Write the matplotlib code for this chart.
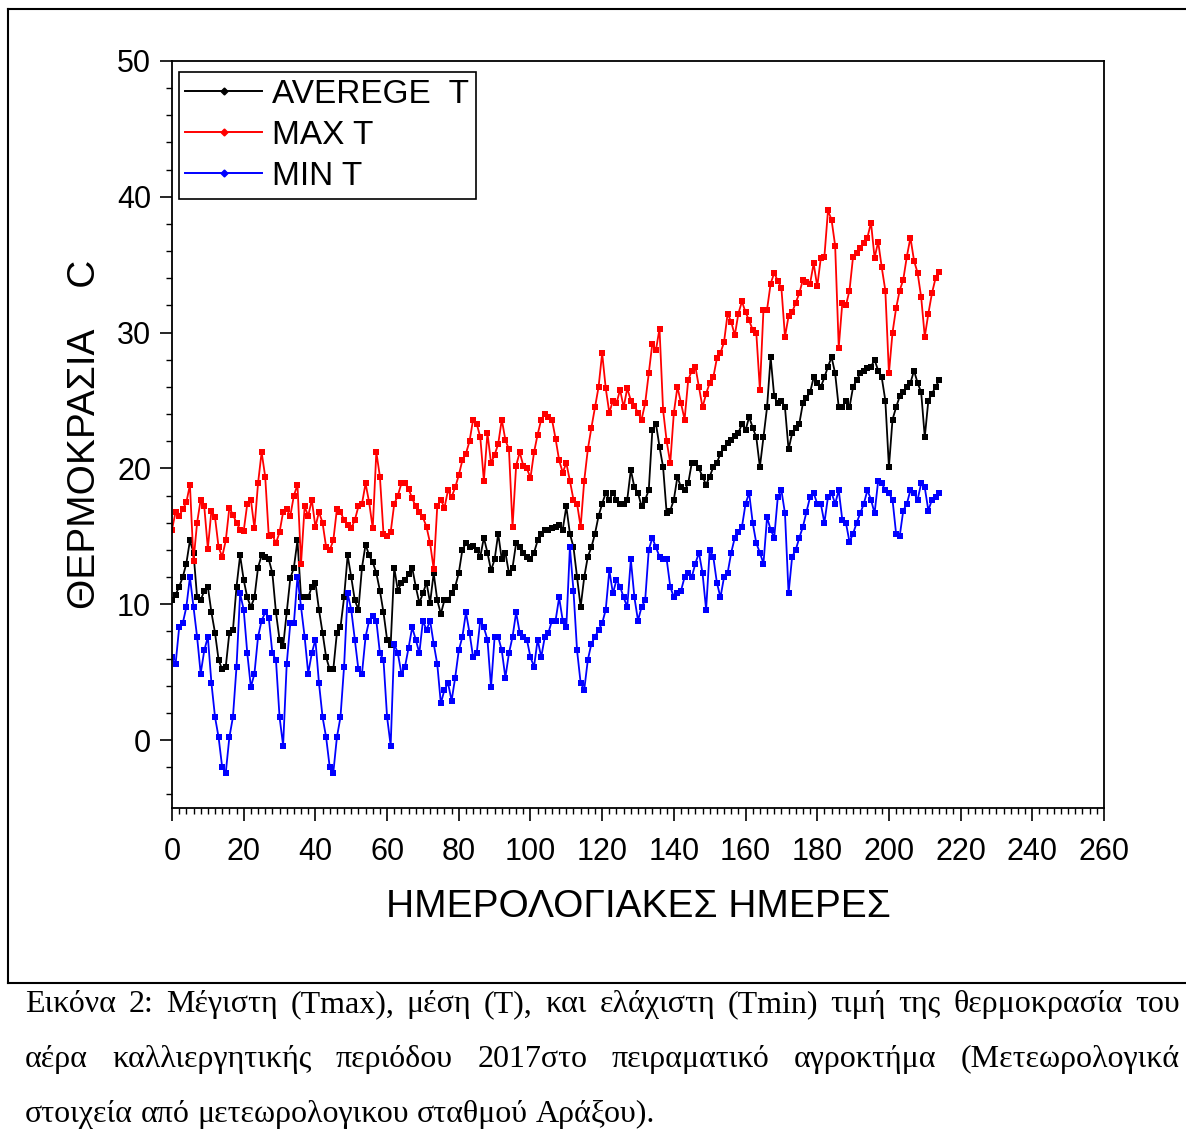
import matplotlib
matplotlib.use("Agg")
import matplotlib.pyplot as plt
from matplotlib.ticker import MultipleLocator
from matplotlib.lines import Line2D

days = list(range(0, 215))

max_t = [15.5, 16.8, 16.5, 17.0, 17.5, 18.8, 13.2, 16.0, 17.7, 17.2,
         14.1, 16.9, 16.4, 14.2, 13.5, 14.7, 17.1, 16.6, 16.0, 15.5,
         15.4, 17.4, 17.7, 15.6, 18.9, 21.2, 19.4, 15.0, 15.1, 14.5,
         15.3, 16.8, 17.0, 16.5, 18.0, 18.8, 13.0, 17.2, 16.5, 17.7,
         15.7, 16.8, 16.0, 14.2, 14.0, 14.7, 17.0, 16.8, 16.2, 15.8,
         15.6, 16.2, 17.2, 17.4, 18.9, 17.5, 15.6, 21.2, 19.4, 15.2,
         15.0, 15.3, 17.4, 18.0, 18.9, 18.9, 18.5, 17.8, 17.2, 16.8,
         16.4, 15.7, 14.5, 12.6, 17.2, 17.7, 17.1, 18.4, 17.9, 18.6,
         19.5, 20.6, 21.1, 22.0, 23.6, 23.3, 22.3, 19.1, 22.6, 20.4,
         21.0, 21.8, 23.6, 22.1, 21.4, 15.7, 20.2, 21.2, 20.2, 20.0,
         19.3, 21.2, 22.5, 23.6, 24.0, 23.8, 23.6, 22.2, 20.6, 19.7,
         20.4, 19.1, 17.7, 17.4, 15.7, 19.1, 21.4, 23.0, 24.5, 26.0,
         28.5, 25.9, 24.1, 25.0, 24.8, 25.8, 24.5, 25.9, 25.0, 24.6,
         24.1, 23.6, 24.8, 27.0, 29.2, 28.7, 30.3, 24.3, 22.0, 20.4,
         24.1, 26.0, 24.8, 23.6, 26.5, 27.2, 27.5, 26.0, 24.5, 25.5,
         26.3, 26.7, 28.1, 28.5, 29.3, 31.4, 30.8, 29.8, 31.4, 32.3,
         31.5, 30.9, 30.2, 30.0, 25.8, 31.7, 31.7, 33.6, 34.4, 33.8,
         33.3, 29.7, 31.2, 31.5, 32.2, 32.9, 33.9, 33.7, 33.6, 35.1,
         33.4, 35.5, 35.6, 39.0, 38.3, 36.4, 28.9, 32.2, 32.0, 33.1,
         35.6, 35.9, 36.2, 36.6, 37.0, 38.1, 35.5, 36.7, 34.8, 33.1,
         27.0, 30.0, 31.8, 33.1, 33.9, 35.6, 37.0, 35.3, 34.4, 32.6,
         29.7, 31.4, 32.9, 34.0, 34.5]

avg_t = [10.3, 10.7, 11.3, 12.0, 13.0, 14.7, 13.8, 10.5, 10.3, 11.0,
         11.3, 9.4, 7.9, 5.9, 5.2, 5.4, 7.9, 8.1, 11.3, 13.6,
         11.8, 10.5, 9.8, 10.5, 12.7, 13.6, 13.5, 13.3, 12.3, 9.4,
         7.4, 6.9, 9.4, 11.9, 12.7, 14.7, 10.5, 10.5, 10.5, 11.3,
         11.6, 9.6, 7.9, 6.1, 5.2, 5.2, 7.9, 8.3, 10.5, 13.6,
         12.0, 10.3, 9.6, 12.7, 14.4, 13.6, 13.1, 12.3, 11.0, 9.4,
         7.4, 7.0, 12.7, 11.0, 11.6, 11.8, 12.2, 12.7, 11.3, 10.1,
         10.8, 11.6, 10.1, 12.3, 10.3, 9.3, 10.3, 10.3, 10.8, 11.3,
         12.3, 14.0, 14.5, 14.2, 14.3, 14.0, 13.5, 14.9, 13.8, 12.5,
         13.3, 15.2, 13.3, 13.8, 12.3, 12.7, 14.5, 14.2, 13.8, 13.5,
         13.3, 13.8, 14.7, 15.2, 15.5, 15.5, 15.6, 15.7, 15.8, 15.5,
         17.2, 15.2, 14.2, 12.0, 9.8, 12.0, 13.5, 14.2, 15.2, 16.5,
         17.4, 18.2, 17.7, 18.2, 17.7, 17.4, 17.4, 17.7, 19.9, 18.6,
         18.2, 17.2, 17.7, 18.4, 22.8, 23.3, 21.6, 20.1, 16.7, 16.9,
         17.7, 19.4, 18.6, 18.4, 18.9, 20.4, 20.4, 20.0, 19.4, 18.8,
         19.4, 20.1, 20.4, 21.1, 21.5, 21.9, 22.1, 22.4, 22.6, 23.3,
         22.8, 23.8, 23.0, 22.3, 20.1, 22.3, 24.5, 28.2, 25.3, 24.8,
         25.0, 24.5, 21.4, 22.6, 23.0, 23.3, 24.8, 25.2, 25.6, 26.7,
         26.3, 26.0, 26.7, 27.5, 28.2, 27.0, 24.5, 24.5, 25.0, 24.5,
         26.0, 26.5, 27.0, 27.2, 27.4, 27.5, 28.0, 27.2, 26.7, 25.0,
         20.1, 23.6, 24.5, 25.3, 25.6, 26.0, 26.3, 27.2, 26.3, 25.6,
         22.3, 25.0, 25.5, 26.0, 26.5]

min_t = [6.1, 5.6, 8.3, 8.6, 9.8, 12.0, 9.8, 7.6, 4.9, 6.6,
         7.6, 4.2, 1.7, 0.2, -2.0, -2.4, 0.2, 1.7, 5.4, 10.8,
         9.6, 6.4, 3.9, 4.9, 7.6, 8.8, 9.4, 9.0, 6.4, 5.9,
         1.7, -0.4, 5.6, 8.6, 8.6, 12.0, 9.8, 7.6, 4.9, 6.4,
         7.4, 4.2, 1.7, 0.2, -2.0, -2.4, 0.2, 1.7, 5.4, 10.8,
         9.6, 7.4, 5.2, 4.9, 7.6, 8.8, 9.1, 8.8, 6.4, 5.9,
         1.7, -0.4, 7.1, 6.4, 4.9, 5.4, 6.8, 8.3, 7.4, 6.4,
         8.8, 8.1, 8.8, 7.1, 5.6, 2.7, 3.7, 4.2, 2.9, 4.6,
         6.6, 7.6, 9.4, 7.9, 6.1, 6.4, 8.8, 8.3, 7.4, 3.9,
         7.6, 7.6, 6.6, 4.6, 6.4, 7.6, 9.4, 7.9, 7.6, 7.4,
         6.1, 5.4, 7.4, 6.1, 7.6, 7.9, 8.8, 8.8, 10.5, 8.8,
         8.3, 14.2, 11.0, 6.6, 4.2, 3.7, 5.9, 7.1, 7.6, 8.1,
         8.6, 9.6, 12.5, 10.8, 11.8, 11.3, 10.5, 9.8, 13.3, 10.5,
         8.8, 9.8, 10.3, 14.0, 14.9, 14.2, 13.5, 13.3, 13.3, 11.3,
         10.5, 10.8, 11.0, 12.0, 12.3, 12.0, 13.0, 13.8, 12.3, 9.6,
         14.0, 13.5, 11.6, 10.5, 12.0, 12.3, 13.8, 14.9, 15.3, 15.7,
         17.4, 18.2, 16.0, 14.5, 13.8, 13.0, 16.4, 15.5, 14.9, 17.9,
         18.4, 16.7, 10.8, 13.5, 14.0, 14.9, 15.7, 16.8, 17.9, 18.2,
         17.4, 17.4, 16.0, 17.9, 18.2, 17.4, 18.4, 16.2, 16.0, 14.6,
         15.2, 16.0, 16.7, 17.4, 18.4, 17.7, 16.7, 19.1, 18.9, 18.4,
         18.2, 17.7, 15.2, 15.0, 16.9, 17.4, 18.4, 18.2, 17.7, 18.9,
         18.6, 16.9, 17.7, 17.9, 18.2]

x_ticks = list(range(0, 261, 20))
y_ticks = [0, 10, 20, 30, 40, 50]
series_labels = ["AVEREGE  T", "MAX T", "MIN T"]
x_label = "ΗΜΕΡΟΛΟΓΙΑΚΕΣ ΗΜΕΡΕΣ"
y_label = "ΘΕΡΜΟΚΡΑΣΙΑ    C"
caption_lines = [
    "Εικόνα 2: Μέγιστη (Tmax), μέση (T), και ελάχιστη (Tmin) τιμή της θερμοκρασία του",
    "αέρα καλλιεργητικής περιόδου 2017στο πειραματικό αγροκτήμα (Μετεωρολογικά",
    "στοιχεία από μετεωρολογικου σταθμού Αράξου).",
]

W, H = 1186, 1142
fig = plt.figure(figsize=(W / 100, H / 100), dpi=100)
sans = ["Liberation Sans Narrow", "Liberation Sans", "DejaVu Sans"]
serif = ["Liberation Serif", "DejaVu Serif"]

ax = fig.add_axes([172 / W, 1 - 808 / H, (1104 - 172) / W, (808 - 61) / H])

colors = ["black", "red", "blue"]
for vals, c, lab in zip([avg_t, max_t, min_t], colors, series_labels):
    ax.plot(days, vals, color=c, lw=1.3, marker="s", ms=3.8,
            markeredgewidth=0, label=lab)

ax.set_xlim(0, 260)
ax.set_ylim(-5, 50)
ax.set_xticks(x_ticks)
ax.set_yticks(y_ticks)
ax.xaxis.set_minor_locator(MultipleLocator(2))
ax.yaxis.set_minor_locator(MultipleLocator(2))
ax.tick_params(axis="both", which="major", direction="out", length=9,
               width=1.2, labelsize=22)
ax.tick_params(axis="x", which="major", pad=12)
ax.tick_params(axis="y", which="major", pad=6)
ax.tick_params(axis="both", which="minor", direction="out", length=4, width=1.0)
for lbl in ax.get_xticklabels() + ax.get_yticklabels():
    lbl.set_family(sans)
for sp in ax.spines.values():
    sp.set_linewidth(1.3)

ax.set_xlabel(x_label, fontsize=28, family=sans, labelpad=16)
ax.set_ylabel(y_label, fontsize=28, family=sans, labelpad=10)

handles = [Line2D([], [], color=c, lw=1.4, marker="D", ms=3.5) for c in colors]
leg = ax.legend(handles, series_labels, loc="upper left",
                bbox_to_anchor=(0.007, 0.985), prop={"family": sans, "size": 24},
                frameon=True, fancybox=False, framealpha=1, edgecolor="black",
                handlelength=2.3, handletextpad=0.3, borderpad=0.2,
                labelspacing=0.3, borderaxespad=0)
leg.get_frame().set_linewidth(1.2)

# page frame lines
fig.add_artist(Line2D([8 / W, 1], [1 - 9 / H, 1 - 9 / H], color="black", lw=1.5,
                      transform=fig.transFigure))
fig.add_artist(Line2D([8 / W, 8 / W], [1 - 9 / H, 1 - 983 / H], color="black",
                      lw=1.5, transform=fig.transFigure))
fig.add_artist(Line2D([8 / W, 1], [1 - 983 / H, 1 - 983 / H], color="black",
                      lw=1.5, transform=fig.transFigure))

# justified caption
renderer = fig.canvas.get_renderer()
left_px, right_px = 25, 1180
base_ys = [1012, 1067, 1122]
fs_cap = 23
for i, (line, by) in enumerate(zip(caption_lines, base_ys)):
    words = line.split(" ")
    objs = [fig.text(0, 1 - by / H, w, fontsize=fs_cap, family=serif,
                     va="baseline", ha="left") for w in words]
    widths = [o.get_window_extent(renderer).width for o in objs]
    if i < len(caption_lines) - 1:
        gap = (right_px - left_px - sum(widths)) / (len(words) - 1)
    else:
        sp = fig.text(0, 0, "a a", fontsize=fs_cap, family=serif)
        sp2 = fig.text(0, 0, "aa", fontsize=fs_cap, family=serif)
        gap = sp.get_window_extent(renderer).width - sp2.get_window_extent(renderer).width
        sp.remove(); sp2.remove()
    x = left_px
    for o, w in zip(objs, widths):
        o.set_x(x / W)
        x += w + gap

fig.savefig("out.png", dpi=100)
